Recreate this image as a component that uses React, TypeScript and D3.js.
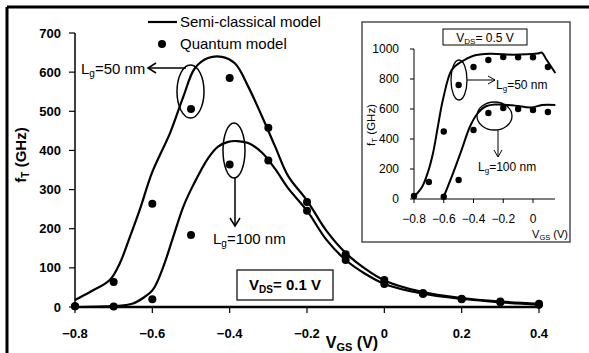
import React from "react";
import * as d3 from "d3";

// main panel (VDS = 0.1 V)
const vgs = [-0.8, -0.7, -0.6, -0.5, -0.4, -0.3, -0.2, -0.1, 0, 0.1, 0.2, 0.3, 0.4];
const quantum50 = [2, 64, 264, 506, 585, 458, 268, 135, 69, 36, 21, 14, 8];
const quantum100 = [2, 1, 20, 184, 364, 374, 246, 120, 59, 33, 20, 12, 6];

const semi50: [number, number][] = [
  [-0.8, 18], [-0.76, 39], [-0.71, 69], [-0.684, 112], [-0.658, 179], [-0.632, 250],
  [-0.6, 345], [-0.554, 445], [-0.52, 537], [-0.49, 610], [-0.456, 636], [-0.42, 639],
  [-0.386, 622], [-0.352, 563], [-0.316, 486], [-0.282, 409], [-0.249, 335], [-0.2, 272],
  [-0.15, 195], [-0.1, 138], [-0.05, 98], [0, 68], [0.1, 38], [0.2, 23], [0.3, 14], [0.4, 8],
];
const semi100: [number, number][] = [
  [-0.8, 0], [-0.7, 2], [-0.65, 9], [-0.624, 23], [-0.598, 45], [-0.572, 102],
  [-0.546, 179], [-0.52, 256], [-0.494, 312], [-0.456, 380], [-0.43, 410], [-0.404, 422],
  [-0.38, 424], [-0.352, 419], [-0.316, 394], [-0.282, 352], [-0.25, 305], [-0.2, 246],
  [-0.15, 172], [-0.1, 120], [-0.05, 85], [0, 59], [0.1, 34], [0.2, 21], [0.3, 12], [0.4, 6],
];

const xTicks = [-0.8, -0.6, -0.4, -0.2, 0, 0.2, 0.4];
const yTicks = [0, 100, 200, 300, 400, 500, 600, 700];

// inset (VDS = 0.5 V)
const insetVgs50 = [-0.8, -0.7, -0.6, -0.5, -0.4, -0.3, -0.2, -0.1, 0, 0.1];
const insetQ50 = [20, 113, 450, 760, 880, 927, 947, 945, 945, 880];
const insetVgs100 = [-0.6, -0.5, -0.4, -0.3, -0.2, -0.1, 0, 0.1];
const insetQ100 = [15, 127, 460, 573, 607, 600, 593, 580];

const insetSemi50: [number, number][] = [
  [-0.8, 15], [-0.746, 80], [-0.706, 180], [-0.672, 307], [-0.64, 480], [-0.606, 660],
  [-0.547, 860], [-0.49, 910], [-0.4, 955], [-0.29, 968], [-0.135, 962], [0.03, 970],
  [0.06, 975], [0.09, 930], [0.15, 840],
];
const insetSemi100: [number, number][] = [
  [-0.606, 0], [-0.547, 147], [-0.48, 327], [-0.425, 480], [-0.377, 565], [-0.323, 615],
  [-0.256, 630], [-0.142, 625], [-0.008, 610], [0.06, 627], [0.15, 627],
];

const insetXTicks = [-0.8, -0.6, -0.4, -0.2, 0];
const insetYTicks = [0, 200, 400, 600, 800, 1000];

const font = "'Liberation Sans', Arial, sans-serif";

export default function App() {
  const x = d3.scaleLinear().domain([-0.8, 0.4]).range([75, 539]);
  const y = d3.scaleLinear().domain([0, 700]).range([307, 33]);
  const xi = d3.scaleLinear().domain([-0.8, 0]).range([414, 533]);
  const yi = d3.scaleLinear().domain([0, 1000]).range([199, 49]);

  const mainLine = d3.line<[number, number]>()
    .x(d => x(d[0]))
    .y(d => y(d[1]))
    .curve(d3.curveCatmullRom.alpha(0.5));
  const insetLine = d3.line<[number, number]>()
    .x(d => xi(d[0]))
    .y(d => yi(d[1]))
    .curve(d3.curveCatmullRom.alpha(0.5));

  const fmt = (v: number) => (v === 0 ? "0" : d3.format(".1f")(v));

  return (
    <svg width={589} height={353} style={{ position: "fixed", left: 0, top: 0, background: "#fff" }}
      fontFamily={font}>
      <rect x={0} y={0} width={589} height={353} fill="#fff" />
      {/* frame */}
      <line x1={7} x2={589} y1={7} y2={7} stroke="#000" strokeWidth={3} />
      <line x1={7} x2={7} y1={7} y2={353} stroke="#000" strokeWidth={3} />

      {/* main axes */}
      <line x1={x(-0.8)} x2={x(0.4) + 2} y1={y(0)} y2={y(0)} stroke="#000" strokeWidth={2.5} />
      <line x1={x(-0.8)} x2={x(-0.8)} y1={y(0)} y2={y(700)} stroke="#000" strokeWidth={1.5} />
      {xTicks.map(t => (
        <g key={"xt" + t}>
          <line x1={x(t)} x2={x(t)} y1={y(0)} y2={y(0) + 6} stroke="#000" strokeWidth={1.2} />
          <text x={x(t)} y={338} textAnchor="middle" fontSize={13} fontWeight="bold">{fmt(t)}</text>
        </g>
      ))}
      {yTicks.map(t => (
        <g key={"yt" + t}>
          <line x1={x(-0.8) - 6} x2={x(-0.8)} y1={y(t)} y2={y(t)} stroke="#000" strokeWidth={1.2} />
          <text x={61} y={y(t)} dy="0.35em" textAnchor="end" fontSize={13} fontWeight="bold">{t}</text>
        </g>
      ))}
      <text x={352} y={348} textAnchor="middle" fontSize={16} fontWeight="bold">
        V<tspan fontSize={11} dy={3}>GS</tspan><tspan dy={-3}> (V)</tspan>
      </text>
      <text transform="translate(26,155) rotate(-90)" textAnchor="middle" fontSize={15} fontWeight="bold">
        f<tspan fontSize={10} dy={3}>T</tspan><tspan dy={-3}> (GHz)</tspan>
      </text>

      {/* main curves */}
      <path d={mainLine(semi50) || ""} fill="none" stroke="#000" strokeWidth={2.2} />
      <path d={mainLine(semi100) || ""} fill="none" stroke="#000" strokeWidth={2.2} />
      {vgs.map((v, i) => (
        <circle key={"q50" + i} cx={x(v)} cy={y(quantum50[i])} r={4} fill="#000" />
      ))}
      {vgs.map((v, i) => (
        <circle key={"q100" + i} cx={x(v)} cy={y(quantum100[i])} r={4} fill="#000" />
      ))}

      {/* main annotations */}
      <ellipse cx={190.5} cy={91.5} rx={13.5} ry={26.5} fill="none" stroke="#000" strokeWidth={1.5} />
      <line x1={186} x2={148} y1={68} y2={68} stroke="#000" strokeWidth={1.5} />
      <polyline points="156,63 148,68 156,73" fill="none" stroke="#000" strokeWidth={1.5} />
      <text x={81} y={74} fontSize={15}>
        L<tspan fontSize={10} dy={3}>g</tspan><tspan dy={-3}>=50 nm</tspan>
      </text>
      <ellipse cx={234} cy={150.5} rx={11} ry={27.5} fill="none" stroke="#000" strokeWidth={1.5} />
      <line x1={235} x2={235} y1={178} y2={226} stroke="#000" strokeWidth={1.5} />
      <polyline points="230,218 235,226 240,218" fill="none" stroke="#000" strokeWidth={1.5} />
      <text x={213} y={244} fontSize={15}>
        L<tspan fontSize={10} dy={3}>g</tspan><tspan dy={-3}>=100 nm</tspan>
      </text>
      <rect x={237} y={270} width={96} height={30} fill="#fff" stroke="#000" strokeWidth={1.2} />
      <text x={285} y={290} textAnchor="middle" fontSize={15} fontWeight="bold">
        V<tspan fontSize={10} dy={3}>DS</tspan><tspan dy={-3}>= 0.1 V</tspan>
      </text>

      {/* legend */}
      <line x1={148} x2={177} y1={22} y2={22} stroke="#000" strokeWidth={2.2} />
      <text x={180} y={27} fontSize={15}>Semi-classical model</text>
      <circle cx={162} cy={44} r={4} fill="#000" />
      <text x={180} y={49} fontSize={15}>Quantum model</text>

      {/* inset */}
      <rect x={362} y={22} width={208} height={220} fill="#fff" stroke="#333" strokeWidth={1.3} />
      <line x1={xi(-0.8)} x2={555} y1={yi(0)} y2={yi(0)} stroke="#000" strokeWidth={1} />
      <line x1={xi(-0.8)} x2={xi(-0.8)} y1={yi(0)} y2={yi(1000)} stroke="#000" strokeWidth={1} />
      {insetXTicks.map(t => (
        <g key={"ixt" + t}>
          <line x1={xi(t)} x2={xi(t)} y1={yi(0)} y2={yi(0) + 4} stroke="#000" strokeWidth={1} />
          <text x={xi(t)} y={223} textAnchor="middle" fontSize={12}>{fmt(t)}</text>
        </g>
      ))}
      {insetYTicks.map(t => (
        <g key={"iyt" + t}>
          <line x1={xi(-0.8) - 4} x2={xi(-0.8)} y1={yi(t)} y2={yi(t)} stroke="#000" strokeWidth={1} />
          <text x={399} y={yi(t)} dy="0.35em" textAnchor="end" fontSize={12}>{t}</text>
        </g>
      ))}
      <text x={568} y={238} textAnchor="end" fontSize={11}>
        V<tspan fontSize={7.5} dy={2}>GS</tspan><tspan dy={-2}> (V)</tspan>
      </text>
      <text transform="translate(375,125) rotate(-90)" textAnchor="middle" fontSize={11.5}>
        f<tspan fontSize={8} dy={2}>T</tspan><tspan dy={-2}> (GHz)</tspan>
      </text>
      <path d={insetLine(insetSemi50) || ""} fill="none" stroke="#000" strokeWidth={2} />
      <path d={insetLine(insetSemi100) || ""} fill="none" stroke="#000" strokeWidth={2} />
      {insetVgs50.map((v, i) => (
        <circle key={"i50" + i} cx={xi(v)} cy={yi(insetQ50[i])} r={3.2} fill="#000" />
      ))}
      {insetVgs100.map((v, i) => (
        <circle key={"i100" + i} cx={xi(v)} cy={yi(insetQ100[i])} r={3.2} fill="#000" />
      ))}
      <rect x={443} y={29} width={84} height={16} fill="#fff" stroke="#000" strokeWidth={1} />
      <text x={485} y={41.5} textAnchor="middle" fontSize={12}>
        V<tspan fontSize={8} dy={2}>DS</tspan><tspan dy={-2}>= 0.5 V</tspan>
      </text>
      <ellipse cx={459} cy={80} rx={8} ry={20} fill="none" stroke="#000" strokeWidth={1.3} />
      <line x1={467} x2={495} y1={80} y2={80} stroke="#000" strokeWidth={1} />
      <polyline points="488,76 495,80 488,84" fill="none" stroke="#000" strokeWidth={1} />
      <text x={496} y={89} fontSize={12}>
        L<tspan fontSize={8} dy={2}>g</tspan><tspan dy={-2}>=50 nm</tspan>
      </text>
      <ellipse cx={494.5} cy={116} rx={17.5} ry={14} fill="none" stroke="#000" strokeWidth={1.3} />
      <line x1={498} x2={498} y1={130} y2={157} stroke="#000" strokeWidth={1} />
      <polyline points="494,150 498,157 502,150" fill="none" stroke="#000" strokeWidth={1} />
      <text x={478} y={171} fontSize={12}>
        L<tspan fontSize={8} dy={2}>g</tspan><tspan dy={-2}>=100 nm</tspan>
      </text>
    </svg>
  );
}
